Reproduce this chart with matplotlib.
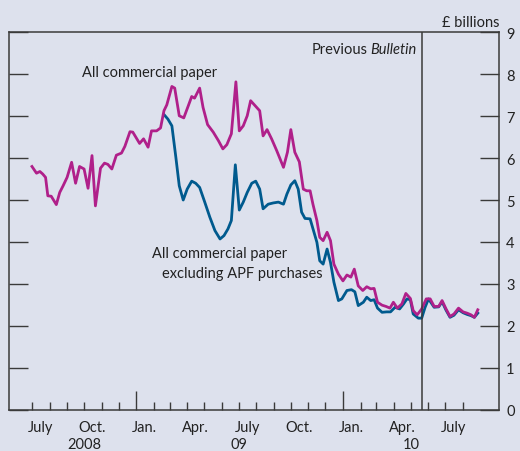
import numpy as np
import pandas as pd
import matplotlib.pyplot as plt

plt.rcParams['font.family'] = ['Lato', 'DejaVu Sans']

# All commercial paper, £ billions
cp_dates = [
    "2008-07-01", "2008-07-09", "2008-07-15", "2008-07-20", "2008-07-25", "2008-07-29",
    "2008-08-04", "2008-08-13", "2008-08-19", "2008-08-25", "2008-09-01", "2008-09-09",
    "2008-09-16", "2008-09-23", "2008-10-01", "2008-10-08", "2008-10-15", "2008-10-21",
    "2008-10-30", "2008-11-06", "2008-11-12", "2008-11-19", "2008-11-27", "2008-12-06",
    "2008-12-12", "2008-12-21", "2008-12-26", "2009-01-07", "2009-01-14", "2009-01-22",
    "2009-01-28", "2009-02-06", "2009-02-13", "2009-02-19", "2009-02-24", "2009-03-05",
    "2009-03-10", "2009-03-18", "2009-03-26", "2009-04-03", "2009-04-09", "2009-04-14",
    "2009-04-23", "2009-04-29", "2009-05-07", "2009-05-17", "2009-05-26", "2009-06-03",
    "2009-06-10", "2009-06-18", "2009-06-26", "2009-07-02", "2009-07-09", "2009-07-16",
    "2009-07-22", "2009-07-30", "2009-08-07", "2009-08-13", "2009-08-20", "2009-08-28",
    "2009-09-06", "2009-09-18", "2009-09-25", "2009-10-01", "2009-10-08", "2009-10-16",
    "2009-10-23", "2009-10-29", "2009-11-04", "2009-11-09", "2009-11-16", "2009-11-21",
    "2009-11-27", "2009-12-04", "2009-12-10", "2009-12-16", "2009-12-24", "2010-01-01",
    "2010-01-08", "2010-01-15", "2010-01-21", "2010-01-28", "2010-02-05", "2010-02-12",
    "2010-02-19", "2010-02-25", "2010-03-03", "2010-03-11", "2010-03-18", "2010-03-25",
    "2010-03-31", "2010-04-07", "2010-04-15", "2010-04-22", "2010-04-30", "2010-05-05",
    "2010-05-12", "2010-05-20", "2010-05-28", "2010-06-04", "2010-06-11", "2010-06-19",
    "2010-06-25", "2010-07-02", "2010-07-09", "2010-07-16", "2010-07-24", "2010-08-01",
    "2010-08-08", "2010-08-15", "2010-08-21", "2010-08-27",
]
cp_values = [
    5.80, 5.64, 5.68, 5.62, 5.54, 5.10,
    5.09, 4.89, 5.18, 5.34, 5.54, 5.90,
    5.40, 5.80, 5.74, 5.28, 6.06, 4.86,
    5.76, 5.88, 5.85, 5.74, 6.07, 6.12,
    6.28, 6.63, 6.62, 6.35, 6.46, 6.26,
    6.65, 6.65, 6.72, 7.13, 7.27, 7.71,
    7.67, 7.01, 6.96, 7.25, 7.47, 7.43,
    7.67, 7.21, 6.80, 6.62, 6.42, 6.22,
    6.32, 6.58, 7.82, 6.65, 6.77, 7.01,
    7.37, 7.25, 7.13, 6.53, 6.68, 6.46,
    6.18, 5.78, 6.14, 6.68, 6.14, 5.91,
    5.26, 5.22, 5.22, 4.90, 4.51, 4.11,
    4.03, 4.23, 4.03, 3.47, 3.23, 3.07,
    3.21, 3.16, 3.35, 2.95, 2.84, 2.93,
    2.88, 2.89, 2.56, 2.49, 2.46, 2.42,
    2.56, 2.42, 2.52, 2.77, 2.65, 2.36,
    2.26, 2.40, 2.64, 2.64, 2.46, 2.46,
    2.60, 2.40, 2.22, 2.28, 2.42, 2.33,
    2.30, 2.26, 2.20, 2.38,
]

# All commercial paper excluding APF purchases, £ billions
ex_dates = [
    "2009-02-19", "2009-02-26", "2009-03-05", "2009-03-12", "2009-03-18", "2009-03-25",
    "2009-04-01", "2009-04-09", "2009-04-16", "2009-04-23", "2009-05-02", "2009-05-11",
    "2009-05-20", "2009-05-29", "2009-06-05", "2009-06-12", "2009-06-18", "2009-06-25",
    "2009-07-02", "2009-07-09", "2009-07-16", "2009-07-24", "2009-07-31", "2009-08-07",
    "2009-08-13", "2009-08-22", "2009-08-31", "2009-09-09", "2009-09-18", "2009-09-24",
    "2009-10-01", "2009-10-08", "2009-10-14", "2009-10-20", "2009-10-26", "2009-11-04",
    "2009-11-10", "2009-11-16", "2009-11-21", "2009-11-27", "2009-12-04", "2009-12-10",
    "2009-12-16", "2009-12-24", "2009-12-30", "2010-01-08", "2010-01-16", "2010-01-22",
    "2010-01-28", "2010-02-06", "2010-02-12", "2010-02-19", "2010-02-25", "2010-03-03",
    "2010-03-11", "2010-03-19", "2010-03-26", "2010-04-03", "2010-04-11", "2010-04-18",
    "2010-04-24", "2010-04-30", "2010-05-05", "2010-05-14", "2010-05-20", "2010-05-26",
    "2010-06-01", "2010-06-11", "2010-06-19", "2010-06-25", "2010-07-02", "2010-07-09",
    "2010-07-16", "2010-07-24", "2010-08-01", "2010-08-08", "2010-08-15", "2010-08-21",
    "2010-08-27",
]
ex_values = [
    7.04, 6.93, 6.77, 6.02, 5.34, 5.00,
    5.26, 5.45, 5.40, 5.30, 4.95, 4.59,
    4.27, 4.07, 4.15, 4.31, 4.51, 5.84,
    4.76, 4.95, 5.18, 5.40, 5.45, 5.26,
    4.79, 4.90, 4.93, 4.95, 4.90, 5.14,
    5.36, 5.46, 5.26, 4.71, 4.56, 4.55,
    4.27, 3.99, 3.55, 3.47, 3.83, 3.51,
    3.04, 2.60, 2.64, 2.84, 2.86, 2.81,
    2.48, 2.56, 2.68, 2.60, 2.62, 2.42,
    2.32, 2.33, 2.33, 2.44, 2.40, 2.52,
    2.64, 2.62, 2.28, 2.18, 2.18, 2.44,
    2.64, 2.44, 2.45, 2.57, 2.37, 2.20,
    2.25, 2.38, 2.31, 2.27, 2.24, 2.20,
    2.30,
]

prev_bulletin = "2010-05-20"
month_labels = ["July", "Oct.", "Jan.", "Apr.", "July", "Oct.", "Jan.", "Apr.", "July"]
month_label_dates = ["2008-07-16", "2008-10-16", "2009-01-16", "2009-04-16", "2009-07-16",
                     "2009-10-16", "2010-01-16", "2010-04-16", "2010-07-16"]
year_labels = ["2008", "09", "10"]
year_label_dates = ["2008-10-01", "2009-07-01", "2010-05-01"]

BG = "#dde1ed"
MAGENTA = "#b0208a"
BLUE = "#005a8e"
INK = "#3a3a3a"
TXT = "#222222"
FS = 10.5

fig = plt.figure(figsize=(5.2, 4.52), dpi=100, facecolor=BG)
ax = fig.add_axes([0.0179, 0.0918, 0.9423, 0.8343], facecolor=BG)

ax.plot(pd.to_datetime(ex_dates), ex_values, color=BLUE, lw=2.0, solid_joinstyle="round")
ax.plot(pd.to_datetime(cp_dates), cp_values, color=MAGENTA, lw=2.0, solid_joinstyle="round")
ax.axvline(pd.Timestamp(prev_bulletin), color=INK, lw=1.1)

ax.set_xlim(pd.Timestamp("2008-05-22"), pd.Timestamp("2010-10-04"))
ax.set_ylim(0, 9)

for s in ax.spines.values():
    s.set_color(INK)
    s.set_linewidth(1.1)

# y axis: ticks inward on both sides, labels on the right
ax.set_yticks(range(0, 10))
ax.tick_params(axis="y", which="major", direction="in", length=14, width=1, color=INK,
               left=True, right=True, labelleft=False, labelright=True,
               labelsize=FS, labelcolor=TXT, pad=5)

# x axis: monthly minor ticks, longer ticks at January
months = pd.date_range("2008-07-01", "2010-08-01", freq="MS")
ax.set_xticks([m for m in months if m.month == 1])
ax.set_xticks([m for m in months if m.month != 1], minor=True)
ax.set_xticklabels([])
ax.tick_params(axis="x", which="major", direction="in", length=14, width=1, color=INK)
ax.tick_params(axis="x", which="minor", direction="in", length=6, width=1, color=INK)

for lab, d in zip(month_labels, month_label_dates):
    ax.text(pd.Timestamp(d), -0.515, lab, ha="center", va="baseline", fontsize=FS, color=TXT)
for lab, d in zip(year_labels, year_label_dates):
    ax.text(pd.Timestamp(d), -0.93, lab, ha="center", va="baseline", fontsize=FS, color=TXT)

ax.text(1.0, 1.018, "£ billions", transform=ax.transAxes, ha="right", va="baseline",
        fontsize=FS, color=TXT)

# "Previous Bulletin" with the word Bulletin in italics
bt = ax.text(pd.Timestamp("2010-05-11"), 8.6, "Bulletin", ha="right", va="center",
             fontsize=FS, color=TXT, fontstyle="italic")
fig.canvas.draw()
bb = bt.get_window_extent()
x_left = ax.transData.inverted().transform((bb.x0 - 3, bb.y0))[0]
ax.text(x_left, 8.6, "Previous", ha="right", va="center", fontsize=FS, color=TXT)

ax.text(pd.Timestamp("2008-09-28"), 8.05, "All commercial paper", ha="left", va="center",
        fontsize=FS, color=TXT)
ax.text(pd.Timestamp("2009-01-29"), 3.73, "All commercial paper", ha="left", va="center",
        fontsize=FS, color=TXT)
ax.text(pd.Timestamp("2009-02-15"), 3.26, "excluding APF purchases", ha="left", va="center",
        fontsize=FS, color=TXT)

fig.savefig("out.png", dpi=100, facecolor=BG)
